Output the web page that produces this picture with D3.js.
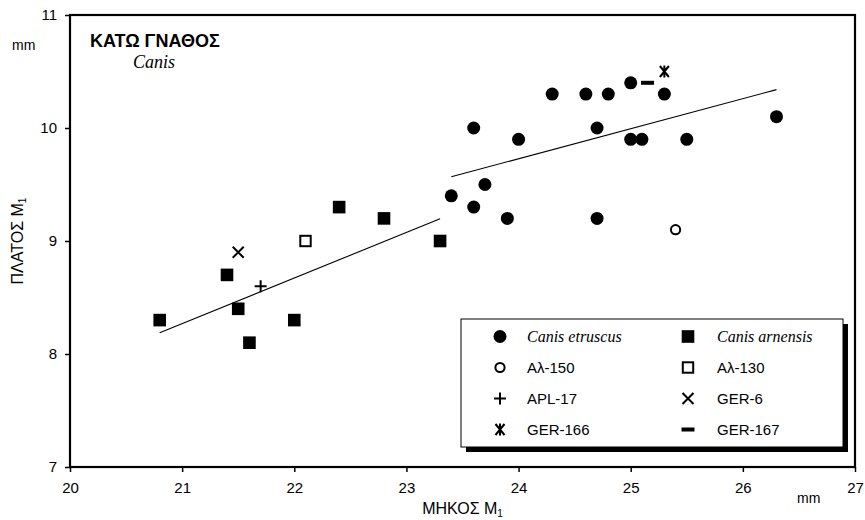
<!DOCTYPE html>
<html>
<head>
<meta charset="utf-8">
<script src="https://cdn.jsdelivr.net/npm/d3@7/dist/d3.min.js"></script>
<style>
  html, body { margin: 0; padding: 0; background: #fff; }
  svg { display: block; }
  .sans { font-family: "Liberation Sans", Arial, Helvetica, sans-serif; }
  .serif { font-family: "Liberation Serif", "Times New Roman", serif; }
</style>
</head>
<body>
<svg id="chart" width="865" height="520"></svg>
<script>
// Canis etruscus: lower M1 length / width (mm)
const etruscusLength = [23.6, 24.0, 24.3, 24.6, 24.8, 25.0, 25.3, 24.7, 25.0, 25.1, 25.5, 23.4, 23.7, 23.6, 23.9, 24.7, 26.3];
const etruscusWidth  = [10.0,  9.9, 10.3, 10.3, 10.3, 10.4, 10.3, 10.0,  9.9,  9.9,  9.9,  9.4,  9.5,  9.3,  9.2,  9.2, 10.1];

// Canis arnensis: lower M1 length / width (mm)
const arnensisLength = [20.8, 21.4, 21.5, 21.6, 22.0, 22.4, 22.8, 23.3];
const arnensisWidth  = [ 8.3,  8.7,  8.4,  8.1,  8.3,  9.3,  9.2,  9.0];

// Individual specimens
const specimenNames  = ["Αλ-150", "Αλ-130", "APL-17", "GER-6", "GER-166", "GER-167"];
const specimenLength = [25.4, 22.1, 21.7, 21.5, 25.3, 25.15];
const specimenWidth  = [ 9.1,  9.0,  8.6,  8.9, 10.5, 10.4];
const specimenSymbol = ["openCircle", "openSquare", "plus", "cross", "asterisk", "dash"];

// Axis ticks
const xTicks = [20, 21, 22, 23, 24, 25, 26, 27];
const yTicks = [7, 8, 9, 10, 11];

// Legend entries (two columns, four rows)
const legendLabels  = ["Canis etruscus", "Canis arnensis", "Αλ-150", "Αλ-130", "APL-17", "GER-6", "GER-166", "GER-167"];
const legendSymbols = ["dot", "square", "openCircle", "openSquare", "plus", "cross", "asterisk", "dash"];
const legendItalic  = [true, true, false, false, false, false, false, false];

const svg = d3.select("#chart");
const plotLeft = 70, plotRight = 855, plotTop = 15, plotBottom = 467;

const x = d3.scaleLinear().domain([20, 27]).range([plotLeft, plotRight]);
const y = d3.scaleLinear().domain([7, 11]).range([plotBottom, plotTop]);

// Marker drawing
function drawMarker(g, type) {
  switch (type) {
    case "dot":
      g.append("circle").attr("r", 6.5).attr("fill", "#000");
      break;
    case "square":
      g.append("rect").attr("x", -6.3).attr("y", -6.3).attr("width", 12.6).attr("height", 12.6).attr("fill", "#000");
      break;
    case "openCircle":
      g.append("circle").attr("r", 4.6).attr("fill", "#fff").attr("stroke", "#000").attr("stroke-width", 2);
      break;
    case "openSquare":
      g.append("rect").attr("x", -5.2).attr("y", -5.2).attr("width", 10.4).attr("height", 10.4)
        .attr("fill", "#fff").attr("stroke", "#000").attr("stroke-width", 2);
      break;
    case "plus":
      g.append("path").attr("d", "M-6,0H6M0,-6V6").attr("stroke", "#000").attr("stroke-width", 2).attr("fill", "none");
      break;
    case "cross":
      g.append("path").attr("d", "M-5.5,-5.5L5.5,5.5M-5.5,5.5L5.5,-5.5").attr("stroke", "#000").attr("stroke-width", 2).attr("fill", "none");
      break;
    case "asterisk":
      g.append("path").attr("d", "M-4.5,-5.5L4.5,5.5M-4.5,5.5L4.5,-5.5M0,-6V6").attr("stroke", "#000").attr("stroke-width", 2).attr("fill", "none");
      break;
    case "dash":
      g.append("rect").attr("x", -6.5).attr("y", -2).attr("width", 13).attr("height", 4).attr("fill", "#000");
      break;
  }
}

// Least-squares fit for a series, drawn over the series' own length range
function fitLine(xs, ys) {
  const mx = d3.mean(xs), my = d3.mean(ys);
  let sxy = 0, sxx = 0;
  xs.forEach((v, i) => { sxy += (v - mx) * (ys[i] - my); sxx += (v - mx) * (v - mx); });
  const b = sxy / sxx, a = my - b * mx;
  const x0 = d3.min(xs), x1 = d3.max(xs);
  return [[x0, a + b * x0], [x1, a + b * x1]];
}

// Axes
const xAxis = svg.append("g").attr("class", "sans").attr("transform", `translate(0,${plotBottom})`)
  .call(d3.axisBottom(x).tickValues(xTicks).tickFormat(d3.format("d")).tickSize(5).tickPadding(10));
const yAxis = svg.append("g").attr("class", "sans").attr("transform", `translate(${plotLeft},0)`)
  .call(d3.axisLeft(y).tickValues(yTicks).tickFormat(d3.format("d")).tickSize(5).tickPadding(8));
[xAxis, yAxis].forEach(a => {
  a.select(".domain").remove();
  a.selectAll(".tick line").attr("stroke", "#000").attr("stroke-width", 1.5);
  a.selectAll(".tick text").attr("fill", "#000").style("font-size", "15px").style("font-family", "'Liberation Sans', Arial, sans-serif");
});

// Plot frame
svg.append("rect").attr("x", plotLeft).attr("y", plotTop).attr("width", plotRight - plotLeft).attr("height", plotBottom - plotTop)
  .attr("fill", "none").attr("stroke", "#000").attr("stroke-width", 2.2);

// Regression lines
const line = d3.line().x(d => x(d[0])).y(d => y(d[1]));
[fitLine(etruscusLength, etruscusWidth), fitLine(arnensisLength, arnensisWidth)].forEach(seg => {
  svg.append("path").attr("d", line(seg)).attr("stroke", "#000").attr("stroke-width", 1.1).attr("fill", "none");
});

// Points
etruscusLength.forEach((v, i) => {
  drawMarker(svg.append("g").attr("transform", `translate(${x(v)},${y(etruscusWidth[i])})`), "dot");
});
arnensisLength.forEach((v, i) => {
  drawMarker(svg.append("g").attr("transform", `translate(${x(v)},${y(arnensisWidth[i])})`), "square");
});
specimenLength.forEach((v, i) => {
  drawMarker(svg.append("g").attr("transform", `translate(${x(v)},${y(specimenWidth[i])})`), specimenSymbol[i]);
});

// Titles
svg.append("text").attr("class", "sans").attr("x", 90).attr("y", 47)
  .style("font-size", "18px").style("font-weight", "bold").text("ΚΑΤΩ ΓΝΑΘΟΣ");
svg.append("text").attr("class", "serif").attr("x", 133).attr("y", 68)
  .style("font-size", "18px").style("font-style", "italic").text("Canis");
svg.append("text").attr("class", "sans").attr("x", 12).attr("y", 50).style("font-size", "14px").text("mm");
svg.append("text").attr("class", "sans").attr("x", 797).attr("y", 503).style("font-size", "14px").text("mm");

// Axis titles with subscript
const xt = svg.append("text").attr("class", "sans").attr("x", (plotLeft + plotRight) / 2).attr("y", 514)
  .attr("text-anchor", "middle").style("font-size", "16px");
xt.append("tspan").text("ΜΗΚΟΣ M");
xt.append("tspan").attr("dy", 3).style("font-size", "10px").text("1");

const yt = svg.append("text").attr("class", "sans")
  .attr("transform", `translate(23,${(plotTop + plotBottom) / 2}) rotate(-90)`)
  .attr("text-anchor", "middle").style("font-size", "16px");
yt.append("tspan").text("ΠΛΑΤΟΣ M");
yt.append("tspan").attr("dy", 3).style("font-size", "10px").text("1");

// Legend
const lg = { x: 461, y: 319, w: 382, h: 128 };
svg.append("rect").attr("x", lg.x + 5).attr("y", lg.y + 5).attr("width", lg.w).attr("height", lg.h).attr("fill", "#000");
svg.append("rect").attr("x", lg.x).attr("y", lg.y).attr("width", lg.w).attr("height", lg.h)
  .attr("fill", "#fff").attr("stroke", "#000").attr("stroke-width", 1);

const colSym = [500, 688], colText = [527, 717];
legendLabels.forEach((label, i) => {
  const col = i % 2, row = Math.floor(i / 2);
  const cy = 336.5 + row * 31;
  drawMarker(svg.append("g").attr("transform", `translate(${colSym[col]},${cy})`), legendSymbols[i]);
  svg.append("text").attr("class", legendItalic[i] ? "serif" : "sans")
    .attr("x", colText[col]).attr("y", cy + 5.5)
    .style("font-size", legendItalic[i] ? "16px" : "15px")
    .style("font-style", legendItalic[i] ? "italic" : "normal")
    .text(label);
});
</script>
</body>
</html>
